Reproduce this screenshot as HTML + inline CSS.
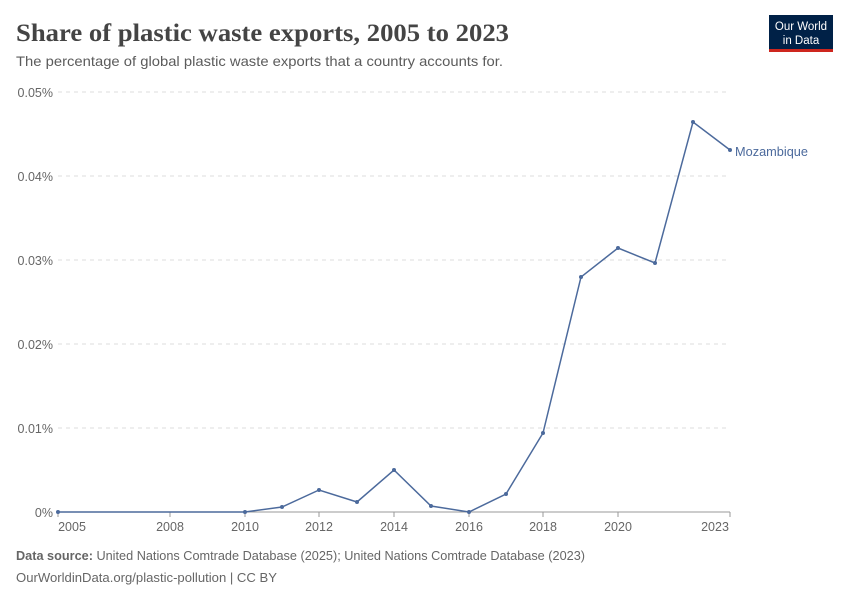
<!DOCTYPE html>
<html><head><meta charset="utf-8"><style>
body{margin:0;background:#fff;width:850px;height:600px;overflow:hidden;font-family:"Liberation Sans",sans-serif;}
</style></head><body>
<svg width="850" height="600" xmlns="http://www.w3.org/2000/svg" font-family="Liberation Sans, sans-serif">
<text x="16" y="41" font-family="Liberation Serif, serif" font-size="25" font-weight="bold" fill="#444" textLength="493" lengthAdjust="spacingAndGlyphs">Share of plastic waste exports, 2005 to 2023</text>
<text x="16" y="66" font-size="14" fill="#5b5b5b" textLength="487" lengthAdjust="spacingAndGlyphs">The percentage of global plastic waste exports that a country accounts for.</text>
<rect x="769" y="15" width="64" height="34" fill="#002147"/>
<rect x="769" y="49" width="64" height="3" fill="#ce261e"/>
<text x="801" y="30" font-size="11.5" fill="#fff" text-anchor="middle">Our World</text>
<text x="801" y="44" font-size="11.5" fill="#fff" text-anchor="middle">in Data</text>
<g stroke="#ddd" stroke-dasharray="4,4">
<line x1="58" x2="730" y1="92" y2="92"/><line x1="58" x2="730" y1="176" y2="176"/>
<line x1="58" x2="730" y1="260" y2="260"/><line x1="58" x2="730" y1="344" y2="344"/>
<line x1="58" x2="730" y1="428" y2="428"/>
</g>
<line x1="58" x2="730" y1="512" y2="512" stroke="#999"/>
<g font-size="12.5" fill="#666" text-anchor="end">
<text x="53" y="97">0.05%</text><text x="53" y="181">0.04%</text><text x="53" y="265">0.03%</text>
<text x="53" y="349">0.02%</text><text x="53" y="433">0.01%</text><text x="53" y="517">0%</text>
</g>
<g stroke="#999"><line x1="58" x2="58" y1="512" y2="517"/><line x1="170" x2="170" y1="512" y2="517"/><line x1="245" x2="245" y1="512" y2="517"/><line x1="319" x2="319" y1="512" y2="517"/><line x1="394" x2="394" y1="512" y2="517"/><line x1="469" x2="469" y1="512" y2="517"/><line x1="543" x2="543" y1="512" y2="517"/><line x1="618" x2="618" y1="512" y2="517"/><line x1="730" x2="730" y1="512" y2="517"/></g>
<g font-size="12.5" fill="#666" text-anchor="middle">
<text x="72" y="531">2005</text><text x="170" y="531">2008</text><text x="245" y="531">2010</text><text x="319" y="531">2012</text><text x="394" y="531">2014</text><text x="469" y="531">2016</text><text x="543" y="531">2018</text><text x="618" y="531">2020</text><text x="715" y="531">2023</text>
</g>
<polyline fill="none" stroke="#4c6a9c" stroke-width="1.5" points="58,512 245,512 282,507 319,490 357,502 394,470 431,506 469,512 506,494 543,433 581,277 618,248 655,263 693,122 730,150"/>
<g fill="#4c6a9c">
<circle cx="58" cy="512" r="2"/><circle cx="245" cy="512" r="2"/><circle cx="282" cy="507" r="2"/><circle cx="319" cy="490" r="2"/><circle cx="357" cy="502" r="2"/><circle cx="394" cy="470" r="2"/><circle cx="431" cy="506" r="2"/><circle cx="469" cy="512" r="2"/><circle cx="506" cy="494" r="2"/><circle cx="543" cy="433" r="2"/><circle cx="581" cy="277" r="2"/><circle cx="618" cy="248" r="2"/><circle cx="655" cy="263" r="2"/><circle cx="693" cy="122" r="2"/><circle cx="730" cy="150" r="2"/>
</g>
<text x="735" y="156" font-size="12.5" fill="#4c6a9c" textLength="73" lengthAdjust="spacingAndGlyphs">Mozambique</text>
<text x="16" y="560" font-size="13" fill="#666" textLength="569" lengthAdjust="spacingAndGlyphs"><tspan font-weight="bold">Data source:</tspan> United Nations Comtrade Database (2025); United Nations Comtrade Database (2023)</text>
<text x="16" y="582" font-size="13" fill="#666" textLength="261" lengthAdjust="spacingAndGlyphs">OurWorldinData.org/plastic-pollution | CC BY</text>
</svg>
</body></html>
